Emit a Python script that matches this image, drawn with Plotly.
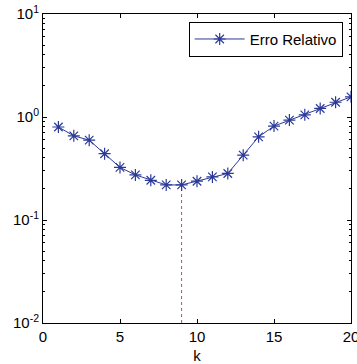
import plotly.graph_objects as go

k = list(range(1, 21))
erro_relativo = [0.80, 0.656, 0.596, 0.44, 0.324, 0.274, 0.243, 0.219, 0.219, 0.238,
                 0.262, 0.283, 0.426, 0.642, 0.816, 0.933, 1.05, 1.21, 1.39, 1.57]
k_min = 9
y_floor = 0.01
x_ticks = [0, 5, 10, 15, 20]
y_ticks = [0.01, 0.1, 1, 10]
y_tick_labels = ["10<sup>-2</sup>", "10<sup>-1</sup>", "10<sup>0</sup>", "10<sup>1</sup>"]
y_minor = [m * d for d in (0.01, 0.1, 1) for m in range(2, 10)]

blue = "#2B3A98"
fig = go.Figure()
fig.add_trace(go.Scatter(
    x=[k_min, k_min], y=[y_floor, erro_relativo[k.index(k_min)]],
    mode="lines", line=dict(color="#E0404E", width=1, dash="dot"),
    showlegend=False, hoverinfo="skip"))
fig.add_trace(go.Scatter(
    x=k, y=erro_relativo, mode="lines+markers", name="Erro Relativo",
    line=dict(color=blue, width=1),
    marker=dict(symbol="asterisk-open", size=10, color=blue, line=dict(color=blue, width=1.2))))

font = dict(family="Liberation Sans, Arial, sans-serif", size=15, color="black")
fig.update_layout(
    width=357, height=364,
    margin=dict(l=43, r=6, t=14, b=41),
    paper_bgcolor="white", plot_bgcolor="white",
    font=font,
    showlegend=True,
    legend=dict(x=0.973, y=0.975, xanchor="right", yanchor="top",
                bordercolor="black", borderwidth=1, bgcolor="white",
                font=dict(family="Liberation Sans, Arial, sans-serif", size=15),
                itemwidth=50, tracegroupgap=0),
)
fig.update_xaxes(
    range=[0, 20], tickvals=x_ticks, ticktext=[str(v) for v in x_ticks],
    ticklabeloverflow="allow", automargin=False,
    showgrid=False, zeroline=False, showline=True, linecolor="black", linewidth=1,
    mirror="ticks", ticks="inside", ticklen=4, tickcolor="black",
    title=dict(text="k", standoff=6, font=font))
fig.update_yaxes(
    type="log", range=[-2, 1], tickvals=y_ticks, ticktext=y_tick_labels,
    ticklabeloverflow="allow", automargin=False,
    showgrid=False, zeroline=False, showline=True, linecolor="black", linewidth=1,
    mirror="ticks", ticks="inside", ticklen=4, tickcolor="black",
    minor=dict(tickmode="array", tickvals=y_minor, ticks="inside", ticklen=2,
               tickcolor="black", showgrid=False))

fig.write_html("out.html")
